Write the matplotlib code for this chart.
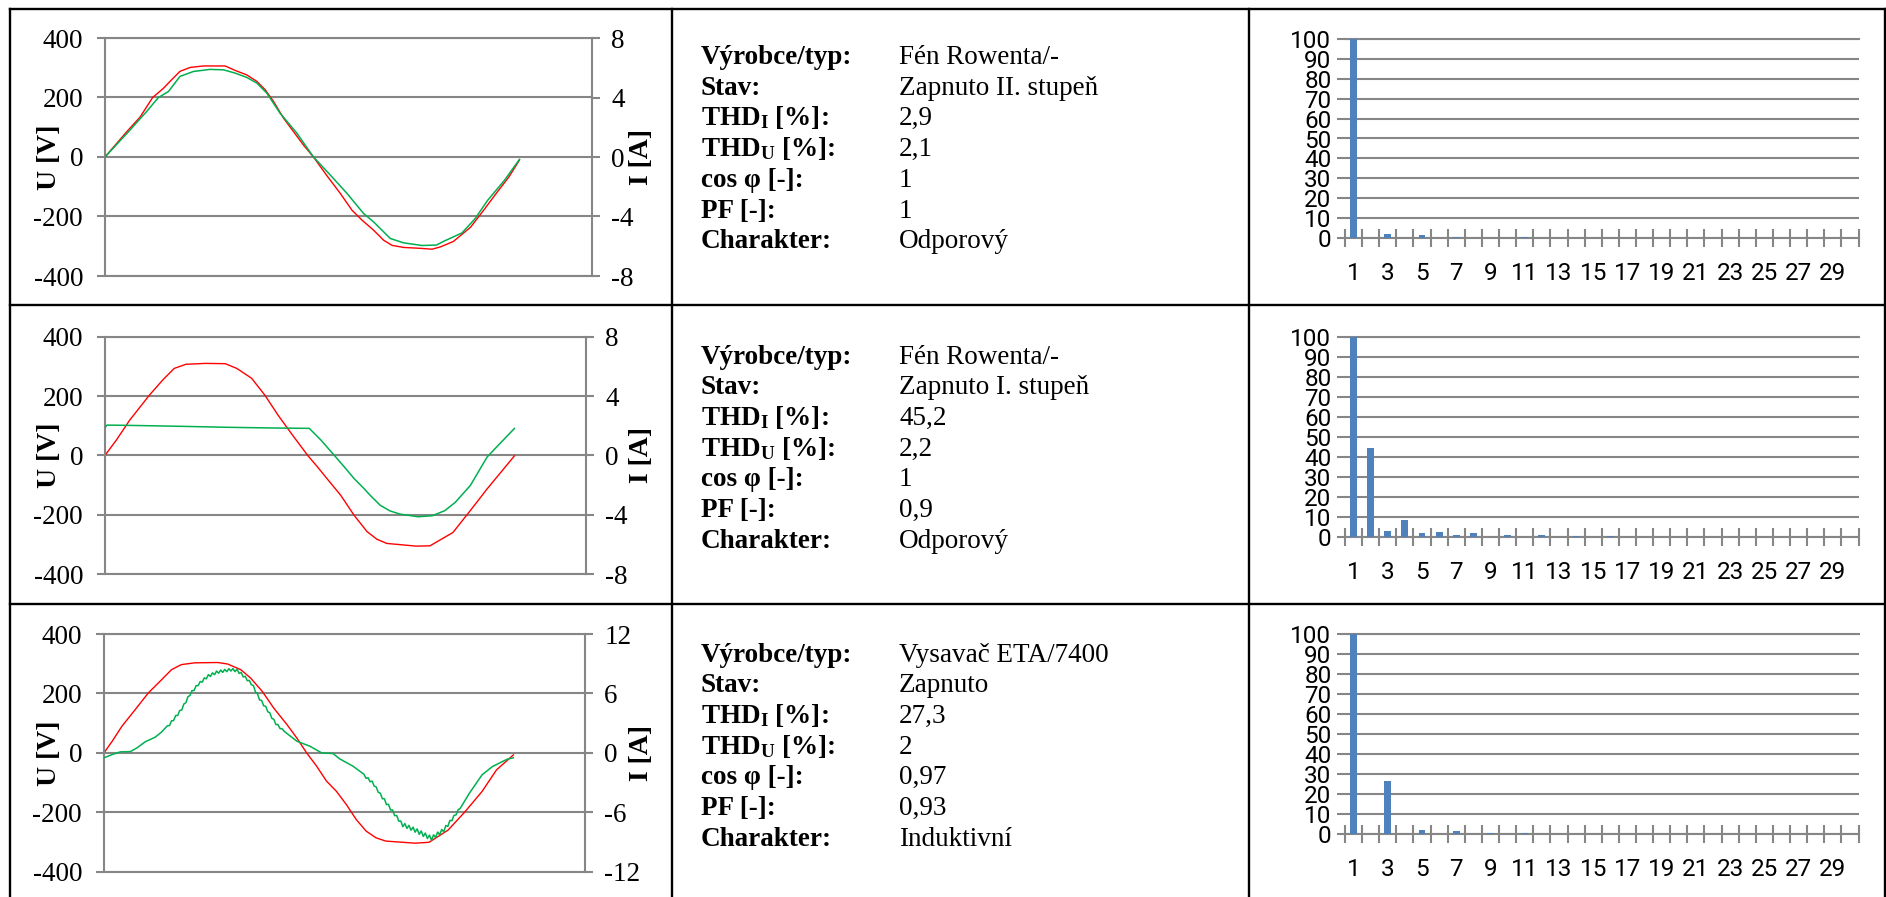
import numpy as np
import matplotlib
matplotlib.use('Agg')
from matplotlib import pyplot as plt
from matplotlib import font_manager
from matplotlib.lines import Line2D

# --- voltage / current waveforms, t in ms -----------------------------------
# row 1: Fén Rowenta, II. stupeň
t_u1 = [0, 1.05, 1.69, 2.30, 2.82, 3.22, 3.62, 4.11, 4.75, 5.80, 6.28, 6.84, 7.33,
        7.73, 8.13, 8.62, 9.10, 9.58, 10.06, 10.71, 11.35, 11.92, 12.40, 12.96,
        13.45, 13.85, 14.41, 15.22, 15.78, 16.19, 16.81, 17.64, 18.26, 18.87,
        19.49, 20.0]
u1 = [0, 85, 134, 200, 231, 260, 288, 301, 306, 306, 291, 276, 254, 226, 187, 130,
      85, 40, 0, -63, -122, -179, -212, -246, -280, -297, -304, -307, -310, -302,
      -284, -236, -180, -123, -67, -10]
t_i1 = [0, 1.21, 2.01, 2.58, 3.06, 3.62, 4.27, 5.07, 5.72, 6.28, 6.84, 7.33, 7.81,
        8.45, 9.26, 10.06, 10.87, 11.68, 12.48, 12.96, 13.77, 14.41, 15.30, 15.99,
        16.40, 17.22, 17.85, 18.46, 19.28, 20.0]
i1 = [0, 1.82, 3.06, 4.00, 4.40, 5.42, 5.75, 5.89, 5.86, 5.64, 5.35, 4.97, 4.29,
      2.94, 1.60, 0, -1.21, -2.45, -3.80, -4.36, -5.48, -5.77, -5.95, -5.92, -5.63,
      -5.11, -4.16, -2.92, -1.56, -0.16]

# row 2: Fén Rowenta, I. stupeň
t_u2 = [0, 0.56, 1.21, 2.17, 2.82, 3.38, 3.95, 4.91, 5.88, 6.44, 7.16, 7.81, 8.45,
        9.10, 9.90, 10.37, 11.03, 11.51, 12.16, 12.80, 13.29, 13.77, 14.57, 15.20,
        15.88, 17.00, 17.85, 18.67, 20.0]
u2 = [0, 52, 119, 203, 254, 293, 307, 310, 309, 293, 260, 203, 136, 74, 0, -38,
      -94, -134, -201, -257, -283, -297, -302, -306, -305, -260, -186, -113, -2]
t_i2 = [0, 0.10, 1.21, 3.62, 6.04, 8.45, 9.98, 10.55, 11.19, 11.68, 12.16, 12.64,
        12.96, 13.45, 13.93, 14.41, 15.30, 15.99, 16.60, 17.12, 17.85, 18.67,
        19.29, 20.0]
i2 = [1.89, 2.04, 2.02, 1.96, 1.89, 1.84, 1.82, 1.03, 0.02, -0.76, -1.55, -2.22,
      -2.70, -3.37, -3.75, -3.96, -4.14, -4.07, -3.73, -3.16, -2.03, -0.11, 0.79,
      1.81]

# row 3: Vysavač ETA/7400
t_u3 = [0, 0.40, 0.88, 1.53, 2.17, 2.74, 3.30, 3.78, 4.43, 5.56, 6.04, 6.68, 7.16,
        7.73, 8.29, 8.94, 9.42, 9.90, 10.39, 10.87, 11.35, 11.84, 12.32, 12.80,
        13.29, 13.77, 15.20, 15.88, 16.81, 17.64, 18.47, 19.18, 20.0]
u3 = [0, 39, 90, 146, 202, 241, 280, 297, 303, 304, 299, 280, 252, 207, 151, 95,
      50, 0, -45, -95, -129, -174, -224, -263, -286, -297, -304, -301, -260, -198,
      -130, -57, -7]
t_i3 = [0, 0.40, 0.80, 1.29, 1.61, 2.01, 2.50, 2.80,
        3.1, 3.2, 3.3, 3.4, 3.5, 3.6, 3.7, 3.8, 3.9, 4.0, 4.1, 4.2, 4.3, 4.4, 4.5,
        4.6, 4.7, 4.8, 4.9, 5.0, 5.1, 5.2, 5.3, 5.4, 5.5, 5.6, 5.7, 5.8, 5.9, 6.0,
        6.1, 6.2, 6.3, 6.4, 6.5, 6.6, 6.7, 6.8, 6.9, 7.0, 7.1, 7.2, 7.3, 7.4, 7.5,
        7.6, 7.7, 7.8, 7.9, 8.0, 8.1, 8.2, 8.3, 8.4, 8.5, 8.6, 8.7, 8.8,
        9.42, 10.06, 10.63, 11.19, 11.51, 12.16,
        12.7, 12.8, 12.9, 13.0, 13.1, 13.2, 13.3, 13.4, 13.5, 13.6, 13.7, 13.8,
        13.9, 14.0, 14.1, 14.2, 14.3, 14.4, 14.5, 14.6, 14.7, 14.8, 14.9, 15.0,
        15.1, 15.2, 15.3, 15.4, 15.5, 15.6, 15.7, 15.8, 15.9, 16.0, 16.1, 16.2,
        16.3, 16.4, 16.5, 16.6, 16.7, 16.8, 16.9, 17.0, 17.1, 17.2, 17.3, 17.4,
        17.85, 18.47, 18.98, 19.70, 20.0]
i3 = [-0.50, -0.17, 0.10, 0.13, 0.50, 1.11, 1.58, 2.08,
      2.74, 2.75, 3.24, 3.26, 3.76, 3.78, 4.28, 4.32, 4.93, 5.06, 5.67, 5.79, 6.28,
      6.29, 6.78, 6.79, 7.20, 7.14, 7.57, 7.47, 7.90, 7.71, 8.08, 7.89, 8.26, 8.04,
      8.36, 8.12, 8.43, 8.19, 8.50, 8.26, 8.51, 8.20, 8.45, 8.02, 8.12, 7.66, 7.73,
      7.28, 7.32, 6.87, 6.80, 6.14, 5.96, 5.34, 5.29, 4.75, 4.70, 4.15, 4.05, 3.48,
      3.38, 2.85, 2.86, 2.45, 2.43, 2.18,
      1.18, 0.67, 0.0, -0.07, -0.60, -1.34,
      -2.16, -2.57, -2.51, -2.92, -2.85, -3.36, -3.44, -3.99, -4.07, -4.63, -4.64,
      -5.22, -5.20, -5.78, -5.76, -6.34, -6.32, -6.90, -6.88, -7.46, -7.14, -7.63,
      -7.32, -7.81, -7.50, -8.01, -7.68, -8.23, -7.89, -8.44, -8.10, -8.65, -8.31,
      -8.82, -8.28, -8.54, -8.00, -8.27, -7.73, -7.99, -7.34, -7.42, -6.82, -6.85,
      -6.31, -6.27, -5.74, -5.62,
      -4.08, -2.22, -1.38, -0.64, -0.50]

# --- harmonic spectra [%], orders 1..30 -------------------------------------
harm = list(range(1, 31))
h1 = [100, 0, 2.0, 0, 1.3, 0, 0.4, 0, 0.1, 0, 0.3, 0, 0.1, 0, 0,
      0, 0, 0, 0, 0, 0, 0, 0, 0, 0, 0, 0, 0, 0, 0]
h2 = [100, 44.3, 3.0, 8.4, 1.7, 2.2, 0.7, 2.0, 0.1, 1.0, 0, 0.8, 0, 0.6, 0,
      0.4, 0, 0, 0, 0, 0, 0, 0, 0, 0, 0, 0, 0, 0, 0]
h3 = [100, 0, 26.7, 0, 2.2, 0, 1.5, 0, 0.6, 0, 0.4, 0, 0, 0, 0,
      0, 0, 0, 0, 0, 0, 0, 0, 0, 0, 0, 0, 0, 0, 0]

# --- parameter table --------------------------------------------------------
param_names = ['Výrobce/typ:', 'Stav:', r'$\mathbf{THD_I}$ [%]:',
               r'$\mathbf{THD_U}$ [%]:', 'cos φ [-]:', 'PF [-]:', 'Charakter:']
params1 = ['Fén Rowenta/-', 'Zapnuto II. stupeň', '2,9', '2,1', '1', '1', 'Odporový']
params2 = ['Fén Rowenta/-', 'Zapnuto I. stupeň', '45,2', '2,2', '1', '0,9', 'Odporový']
params3 = ['Vysavač ETA/7400', 'Zapnuto', '27,3', '2', '0,97', '0,93', 'Induktivní']

u_ticks = [-400, -200, 0, 200, 400]
i_ticks1 = [-8, -4, 0, 4, 8]
i_ticks3 = [-12, -6, 0, 6, 12]

plt.rcParams['mathtext.fontset'] = 'custom'
plt.rcParams['mathtext.rm'] = 'Liberation Serif'
plt.rcParams['mathtext.bf'] = 'Liberation Serif:bold'
plt.rcParams['mathtext.it'] = 'Liberation Serif:italic'

names = {f.name for f in font_manager.fontManager.ttflist}
BAR_FONT = 'Liberation Sans Narrow' if 'Liberation Sans Narrow' in names else 'Roboto'
SERIF = 'Liberation Serif'
GRAY = '#868686'

W, H = 1886, 897
fig = plt.figure(figsize=(W / 100, H / 100), dpi=100)


def px_axes(x0, y0, x1, y1):
    return fig.add_axes([x0 / W, 1 - y1 / H, (x1 - x0) / W, (y1 - y0) / H])


def hyph(v):
    return str(v).replace('\u2212', '-')


def wave_panel(box, tu, u, ti, i, iticks):
    ax = px_axes(*box)
    ax.plot(tu, u, color='#ff0000', lw=1.0)
    ax.set_xlim(0, 23.5)
    ax.set_ylim(u_ticks[0], u_ticks[-1])
    ax.set_xticks([])
    ax.set_yticks(u_ticks)
    ax.set_yticklabels([hyph(v) for v in u_ticks], family=SERIF, fontsize=19.5)
    ax.grid(axis='y', color=GRAY, lw=1.5)
    for s in ax.spines.values():
        s.set_color(GRAY)
        s.set_linewidth(1.5)
    ax.tick_params(axis='y', direction='out', length=5.8, width=1.5, color=GRAY, pad=10)

    ax2 = ax.twinx()
    ax2.plot(ti, i, color='#00b050', lw=1.1)
    ax2.set_ylim(iticks[0], iticks[-1])
    ax2.set_yticks(iticks)
    ax2.set_yticklabels([hyph(v) for v in iticks], family=SERIF, fontsize=19.5)
    for s in ax2.spines.values():
        s.set_visible(False)
    ax2.tick_params(axis='y', direction='out', length=5.8, width=1.5, color=GRAY, pad=8)

    x0, y0, x1, y1 = box
    fig.text(49 / W, 1 - (y0 + y1) / 2 / H, 'U [V]', rotation=90, ha='center',
             va='center', family=SERIF, weight='bold', fontsize=20)
    fig.text(641 / W, 1 - (y0 + y1) / 2 / H, 'I [A]', rotation=90, ha='center',
             va='center', family=SERIF, weight='bold', fontsize=20)


def bar_panel(box, vals):
    ax = px_axes(*box)
    ax.bar(harm, vals, width=0.4, color='#4f81bd', zorder=3)
    ax.set_xlim(0.5, 30.5)
    ax.set_ylim(0, 100)
    ax.set_yticks(range(0, 101, 10))
    ax.grid(axis='y', color=GRAY, lw=1.5, zorder=0)
    ax.set_axisbelow(True)
    ax.spines['left'].set_visible(False)
    ax.spines['right'].set_visible(False)
    for s in ('top', 'bottom'):
        ax.spines[s].set_color(GRAY)
        ax.spines[s].set_linewidth(1.5)
    ax.set_xticks(np.arange(0.5, 31, 1))
    ax.set_xticklabels([])
    ax.set_xticks(harm[::2], minor=True)
    ax.set_xticklabels([str(h) for h in harm[::2]], minor=True, family=BAR_FONT,
                       fontsize=17.5)
    ax.tick_params(axis='x', which='major', direction='inout', length=13.5,
                   width=1.5, color=GRAY)
    ax.tick_params(axis='x', which='minor', length=0, pad=17.5)
    ax.tick_params(axis='y', direction='out', length=5.8, width=1.5, color=GRAY, pad=4)
    for lab in ax.get_yticklabels():
        lab.set_family(BAR_FONT)
        lab.set_fontsize(17.5)


def param_cell(baseline, values):
    for k, (name, val) in enumerate(zip(param_names, values)):
        y = 1 - (baseline + k * 30.7) / H
        fig.text(701 / W, y, name, ha='left', va='baseline', family=SERIF,
                 weight='bold', fontsize=19.5)
        fig.text(899 / W, y, val, ha='left', va='baseline', family=SERIF,
                 fontsize=19.5)


wave_panel((105, 38, 592, 276), t_u1, u1, t_i1, i1, i_ticks1)
wave_panel((105, 336.7, 586, 574), t_u2, u2, t_i2, i2, i_ticks1)
wave_panel((104, 634, 585, 871.7), t_u3, u3, t_i3, i3, i_ticks3)

bar_panel((1345, 39, 1858.5, 238), h1)
bar_panel((1345, 337.3, 1858.5, 536.7), h2)
bar_panel((1345, 634, 1858.5, 834), h3)

param_cell(64, params1)
param_cell(363.5, params2)
param_cell(661.5, params3)

# table grid
for y in (9.5, 305, 604.3):
    fig.add_artist(Line2D([9.5 / W, 1], [1 - y / H] * 2, color='black', lw=1.7))
for x in (9.5, 671.5, 1249, 1884.5):
    fig.add_artist(Line2D([x / W] * 2, [1 - 9.5 / H, 0], color='black', lw=1.7))

fig.savefig('out.png', dpi=100)
